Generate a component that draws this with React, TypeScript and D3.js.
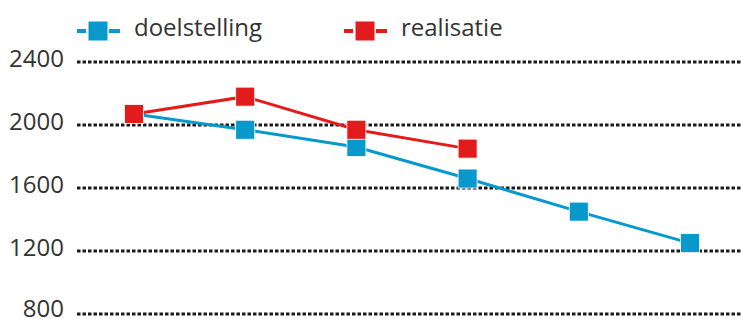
import React, { useEffect, useRef } from 'react'
import * as d3 from 'd3'

const periods = ['p1', 'p2', 'p3', 'p4', 'p5', 'p6']
const doelstelling = [2070, 1970, 1860, 1660, 1450, 1250]
const realisatie = [2070, 2180, 1970, 1850]
const yTicks = [800, 1200, 1600, 2000, 2400]

const BLUE = '#0899cc'
const RED = '#e21c1c'
const TEXT = '#333'
const FONT = '"Open Sans", sans-serif'

const App = () => {
  const svgRef = useRef<SVGSVGElement>(null)
  const width = 741
  const height = 319

  useEffect(() => {
    const svg = d3.select(svgRef.current)
    svg.selectAll('*').remove()

    const x = d3.scalePoint().domain(periods).range([134, 690])
    const y = d3.scaleLinear().domain([800, 2400]).range([314, 62])

    // grid + tick labels
    const grid = svg.append('g')
    grid
      .selectAll('line')
      .data(yTicks)
      .join('line')
      .attr('x1', 77)
      .attr('x2', width)
      .attr('y1', (d) => y(d))
      .attr('y2', (d) => y(d))
      .attr('stroke', '#1a1a1a')
      .attr('stroke-width', 3.2)
      .attr('stroke-dasharray', '3.5,2')
    grid
      .selectAll('text')
      .data(yTicks)
      .join('text')
      .attr('x', 64)
      .attr('y', (d) => Math.min(y(d) + 5, height - 2))
      .attr('text-anchor', 'end')
      .attr('font-family', FONT)
      .attr('font-size', 24)
      .attr('fill', TEXT)
      .text((d) => d)

    const line = d3
      .line<number>()
      .x((_, i) => x(periods[i]) as number)
      .y((d) => y(d))

    const series = [
      { values: doelstelling, color: BLUE },
      { values: realisatie, color: RED },
    ]
    const ms = 19
    series.forEach((s) => {
      const g = svg.append('g')
      g.append('path')
        .attr('d', line(s.values))
        .attr('fill', 'none')
        .attr('stroke', s.color)
        .attr('stroke-width', 3)
      g.selectAll('rect')
        .data(s.values)
        .join('rect')
        .attr('x', (_, i) => (x(periods[i]) as number) - ms / 2)
        .attr('y', (d) => y(d) - ms / 2)
        .attr('width', ms)
        .attr('height', ms)
        .attr('fill', s.color)
        .attr('stroke', '#fff')
        .attr('stroke-width', 0.8)
    })

    // legend
    const legend = [
      { label: 'doelstelling', color: BLUE, x: 77 },
      { label: 'realisatie', color: RED, x: 344 },
    ]
    legend.forEach((l) => {
      const g = svg.append('g').attr('transform', `translate(${l.x},31)`)
      g.append('line').attr('x1', 0).attr('x2', 9).attr('stroke', l.color).attr('stroke-width', 4)
      g.append('line').attr('x1', 32).attr('x2', 43).attr('stroke', l.color).attr('stroke-width', 4)
      g.append('rect')
        .attr('x', 11.5)
        .attr('y', -9.5)
        .attr('width', ms)
        .attr('height', ms)
        .attr('fill', l.color)
      g.append('text')
        .attr('x', 57)
        .attr('y', 5)
        .attr('font-family', FONT)
        .attr('font-size', 24)
        .attr('fill', TEXT)
        .text(l.label)
    })
  }, [])

  return (
    <div style={{ position: 'absolute', left: 0, top: 0, background: '#fff' }}>
      <svg ref={svgRef} width={width} height={height} />
    </div>
  )
}

export default App
